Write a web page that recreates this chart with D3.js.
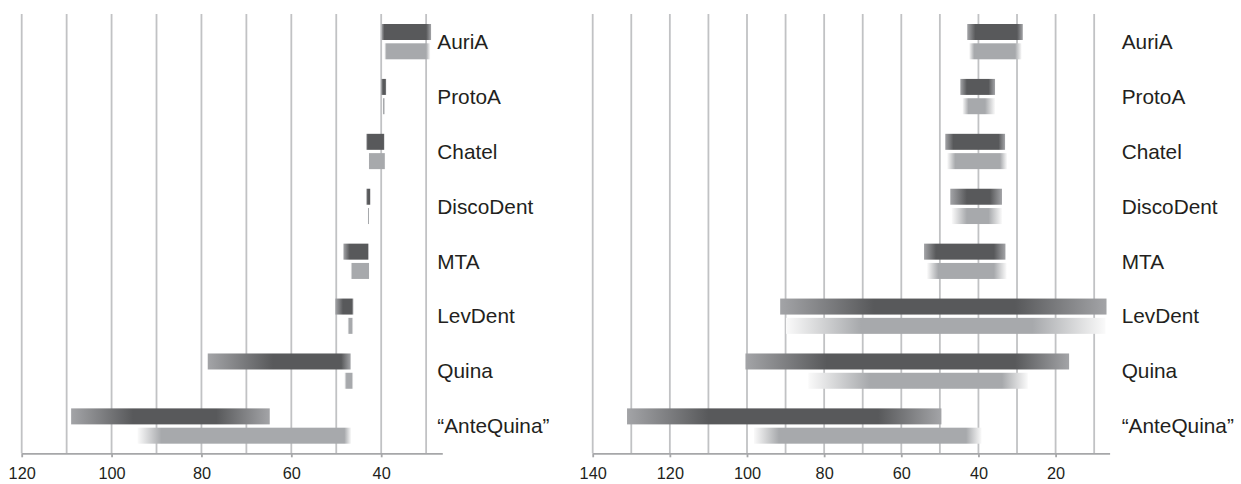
<!DOCTYPE html>
<html>
<head>
<meta charset="utf-8">
<script src="https://cdn.jsdelivr.net/npm/d3@7/dist/d3.min.js"></script>
<style>
  html, body { margin: 0; padding: 0; background: #ffffff; }
  svg { display: block; }
  text { font-family: "Liberation Sans", Arial, Helvetica, sans-serif; fill: #231f20; }
</style>
</head>
<body>
<svg id="chart" width="1241" height="484"></svg>
<script>
// ---------- DATA ----------
const categories = ["AuriA", "ProtoA", "Chatel", "DiscoDent", "MTA", "LevDent", "Quina", "\u201CAnteQuina\u201D"];

// Left panel: each bar = [older faded end, older solid start, younger solid end, younger faded end]
const leftDarkOldEnd     = [39.9, 40.0, 43.3, 43.3, 48.4, 50.2, 78.6, 109.0];
const leftDarkOldSolid   = [39.3, 39.6, 43.0, 43.0, 47.0, 48.5, 64.1, 95.2];
const leftDarkYoungSolid = [30.0, 39.1, 39.5, 42.6, 43.0, 46.6, 48.9, 76.7];
const leftDarkYoungEnd   = [28.9, 38.9, 39.3, 42.4, 42.8, 46.2, 46.8, 64.8];

const leftLightOldEnd     = [39.3, 39.6, 42.8, 43.0, 46.8, 47.5, 48.2, 94.2];
const leftLightOldSolid   = [38.8, 39.5, 42.6, 42.9, 46.4, 47.1, 47.7, 88.9];
const leftLightYoungSolid = [30.0, 39.3, 39.3, 42.8, 42.8, 46.6, 46.6, 48.2];
const leftLightYoungEnd   = [29.1, 39.2, 39.1, 42.7, 42.6, 46.2, 46.2, 46.7];

// Right panel
const rightDarkOldEnd     = [42.9, 44.7, 48.6, 47.3, 54.1, 91.4, 100.4, 131.1];
const rightDarkOldSolid   = [40.8, 43.0, 46.5, 43.0, 51.0, 67.1, 79.3, 110.0];
const rightDarkYoungSolid = [30.0, 37.4, 34.8, 37.0, 36.0, 30.5, 30.5, 66.0];
const rightDarkYoungEnd   = [28.5, 35.7, 33.1, 33.9, 33.0, 6.8, 16.5, 49.6];

const rightLightOldEnd     = [42.4, 44.1, 48.1, 46.9, 53.3, 89.9, 84.1, 98.2];
const rightLightOldSolid   = [41.1, 42.6, 46.0, 43.0, 50.4, 70.4, 68.2, 91.7];
const rightLightYoungSolid = [30.5, 38.3, 34.4, 37.4, 36.0, 26.0, 33.9, 43.2];
const rightLightYoungEnd   = [28.8, 35.7, 32.6, 33.9, 32.7, 7.1, 27.2, 39.2];

const leftDomain = [120, 26.4];
const rightDomain = [140, 6];
const leftGridTicks = [120, 110, 100, 90, 80, 70, 60, 50, 40, 30];
const rightGridTicks = [140, 130, 120, 110, 100, 90, 80, 70, 60, 50, 40, 30, 20, 10];
const leftTickLabels = [120, 100, 80, 60, 40];
const rightTickLabels = [140, 120, 100, 80, 60, 40, 20];

// ---------- STYLE ----------
const DARK = "#58595b", DARK_FADE = "#a3a4a7";
const LIGHT = "#a7a9ac", LIGHT_FADE = "#fafafa";
const GRID = "#c1c2c4", AXIS = "#a6a7a9";

const svg = d3.select("#chart");
svg.append("rect").attr("width", 1241).attr("height", 484).attr("fill", "#fff");
const defs = svg.append("defs");

const plotTop = 14, axisY = 453.3;
const y = d3.scaleBand().domain(categories).range([plotTop, axisY]).padding(0);

function panel(id, domain, range, grid, labels, labelX, dark, light) {
  const x = d3.scaleLinear().domain(domain).range(range);
  const g = svg.append("g");

  // gridlines
  g.append("g").selectAll("line").data(grid).join("line")
    .attr("x1", d => x(d)).attr("x2", d => x(d))
    .attr("y1", plotTop).attr("y2", axisY)
    .attr("stroke", GRID).attr("stroke-width", 1.8);

  // bars
  function drawSeries(s, name, solid, fade, offset) {
    const rows = categories.map((c, i) => ({
      c, i, a: s[0][i], b: s[1][i], cc: s[2][i], d: s[3][i]
    }));
    rows.forEach(r => {
      const gid = `${id}-${name}-${r.i}`;
      const x1 = x(r.a), x2 = x(r.d);
      const w = Math.max(x2 - x1, 0.001);
      const o1 = Math.min(Math.max((x(r.b) - x1) / w, 0), 1);
      const o2 = Math.min(Math.max((x(r.cc) - x1) / w, o1), 1);
      const lg = defs.append("linearGradient").attr("id", gid)
        .attr("gradientUnits", "userSpaceOnUse")
        .attr("x1", x1).attr("x2", x2).attr("y1", 0).attr("y2", 0);
      lg.append("stop").attr("offset", 0).attr("stop-color", fade);
      lg.append("stop").attr("offset", o1).attr("stop-color", solid);
      lg.append("stop").attr("offset", o2).attr("stop-color", solid);
      lg.append("stop").attr("offset", 1).attr("stop-color", fade);
    });
    g.append("g").selectAll("rect").data(rows).join("rect")
      .attr("x", d => x(d.a))
      .attr("width", d => Math.max(x(d.d) - x(d.a), 1))
      .attr("y", d => y(d.c) + offset)
      .attr("height", 16)
      .attr("fill", d => `url(#${id}-${name}-${d.i})`);
  }
  drawSeries(dark, "dark", DARK, DARK_FADE, 10);
  drawSeries(light, "light", LIGHT, LIGHT_FADE, 29.3);

  // axis
  const axis = d3.axisBottom(x).tickValues(labels).tickSize(4).tickSizeOuter(0)
    .tickFormat(d3.format("d"));
  const ag = g.append("g").attr("transform", `translate(0,${axisY})`).call(axis);
  ag.select(".domain").attr("stroke", AXIS).attr("stroke-width", 1.8);
  ag.selectAll(".tick line").attr("stroke", AXIS).attr("stroke-width", 1.8);
  ag.selectAll(".tick text").attr("y", 14.5).attr("font-size", 16.3)
    .attr("font-family", "Liberation Sans, Arial, sans-serif").attr("fill", "#231f20");

  // category labels
  g.append("g").selectAll("text").data(categories).join("text")
    .attr("x", labelX)
    .attr("y", d => y(d) + y.bandwidth() / 2 + 7.4)
    .attr("font-size", 20.8)
    .text(d => d);
}

panel("L", leftDomain, [21.7, 442.3], leftGridTicks, leftTickLabels, 437.3,
  [leftDarkOldEnd, leftDarkOldSolid, leftDarkYoungSolid, leftDarkYoungEnd],
  [leftLightOldEnd, leftLightOldSolid, leftLightYoungSolid, leftLightYoungEnd]);

panel("R", rightDomain, [592.7, 1109.6], rightGridTicks, rightTickLabels, 1121.7,
  [rightDarkOldEnd, rightDarkOldSolid, rightDarkYoungSolid, rightDarkYoungEnd],
  [rightLightOldEnd, rightLightOldSolid, rightLightYoungSolid, rightLightYoungEnd]);
</script>
</body>
</html>
